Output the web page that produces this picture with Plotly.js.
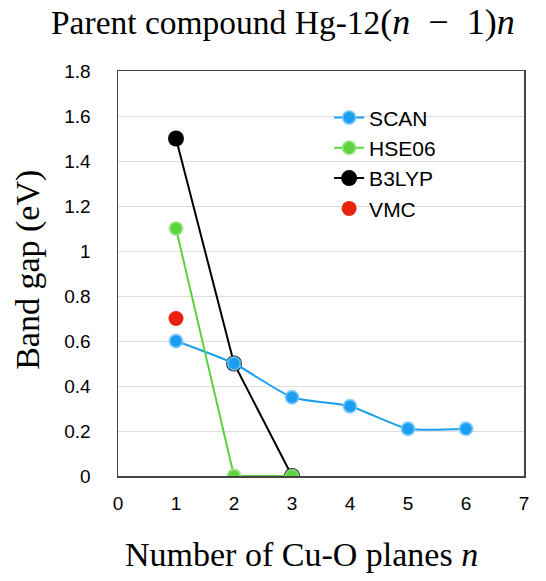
<!DOCTYPE html>
<html><head><meta charset="utf-8">
<script src="https://cdn.plot.ly/plotly-3.0.1.min.js"></script>
<style>body{margin:0;background:#fff}#chart{width:546px;height:581px}</style>
</head><body><div id="chart"></div>
<script>
const scanX = [1, 2, 3, 4, 5, 6];
const scanY = [0.60, 0.50, 0.35, 0.31, 0.21, 0.21];
const hseX = [1, 2, 3];
const hseY = [1.10, 0, 0];
const b3lypX = [1, 2, 3];
const b3lypY = [1.50, 0.50, 0];
const vmcX = [1];
const vmcY = [0.70];
const xTicks = [0, 1, 2, 3, 4, 5, 6, 7];
const yTicks = [0, 0.2, 0.4, 0.6, 0.8, 1, 1.2, 1.4, 1.6, 1.8];
const yTickText = ['0', '0.2', '0.4', '0.6', '0.8', '1', '1.2', '1.4', '1.6', '1.8'];

const traces = [
  {x: b3lypX, y: b3lypY, name: 'B3LYP', mode: 'lines+markers', legendrank: 3,
   line: {color: '#000000', width: 2},
   marker: {color: '#000000', size: 16}},
  {x: scanX, y: scanY, name: 'SCAN', mode: 'lines+markers', legendrank: 1,
   line: {color: '#1a9ff0', width: 2, shape: 'spline', smoothing: 0.6},
   marker: {color: '#1a9ff0', size: 13, line: {color: 'rgba(120,200,250,0.8)', width: 2}}},
  {x: hseX, y: hseY, name: 'HSE06', mode: 'lines+markers', legendrank: 2,
   line: {color: '#5cd23f', width: 2},
   marker: {color: '#5cd23f', size: 13, line: {color: 'rgba(150,228,130,0.8)', width: 2}}},
  {x: vmcX, y: vmcY, name: 'VMC', mode: 'markers', legendrank: 4,
   marker: {color: '#e8230f', size: 15}}
];

const serif = 'Liberation Serif, Times New Roman, serif';
const layout = {
  width: 546, height: 581,
  margin: {l: 118, r: 22, t: 71, b: 105},
  paper_bgcolor: '#ffffff', plot_bgcolor: '#ffffff',
  font: {family: 'Liberation Sans, Arial, sans-serif', color: '#000'},
  title: {text: 'Parent compound Hg-12<span style="font-size:36px">(<i>n</i>\u2002−\u20021)<i>n</i></span>',
          font: {family: serif, size: 33.5, color: '#000'},
          x: 0.518, xanchor: 'center', xref: 'container', y: 0.962, yanchor: 'middle', yref: 'container'},
  xaxis: {range: [0, 7], tickvals: xTicks, ticktext: xTicks.map(String),
          showgrid: false, zeroline: false, showline: true, linecolor: '#444', linewidth: 1.5, mirror: true,
          ticks: '', tickfont: {size: 19}, ticklabelstandoff: 10},
  yaxis: {range: [0, 1.8], tickvals: yTicks, ticktext: yTickText,
          showgrid: true, gridcolor: '#dddddd', gridwidth: 1, zeroline: false,
          showline: true, linecolor: '#444', linewidth: 1.5, mirror: true,
          ticks: '', tickfont: {size: 19}, ticklabelstandoff: 22},
  annotations: [
    {text: 'Number of Cu-O planes <i>n</i>', xref: 'paper', yref: 'paper', x: 0.453, y: -0.195,
     xanchor: 'center', yanchor: 'middle', showarrow: false, font: {family: serif, size: 34, color: '#000'}},
    {text: 'Band gap (eV)', xref: 'paper', yref: 'paper', x: -0.2217, y: 0.509, textangle: -90,
     xanchor: 'center', yanchor: 'middle', showarrow: false, font: {family: serif, size: 34, color: '#000'}}
  ],
  legend: {x: 0.52, y: 0.935, xanchor: 'left', yanchor: 'top', bgcolor: 'rgba(0,0,0,0)',
           font: {size: 21, color: '#000'}, tracegroupgap: 0, itemwidth: 30},
  showlegend: true
};

Plotly.newPlot('chart', traces, layout, {displayModeBar: false, staticPlot: true});
</script></body></html>
